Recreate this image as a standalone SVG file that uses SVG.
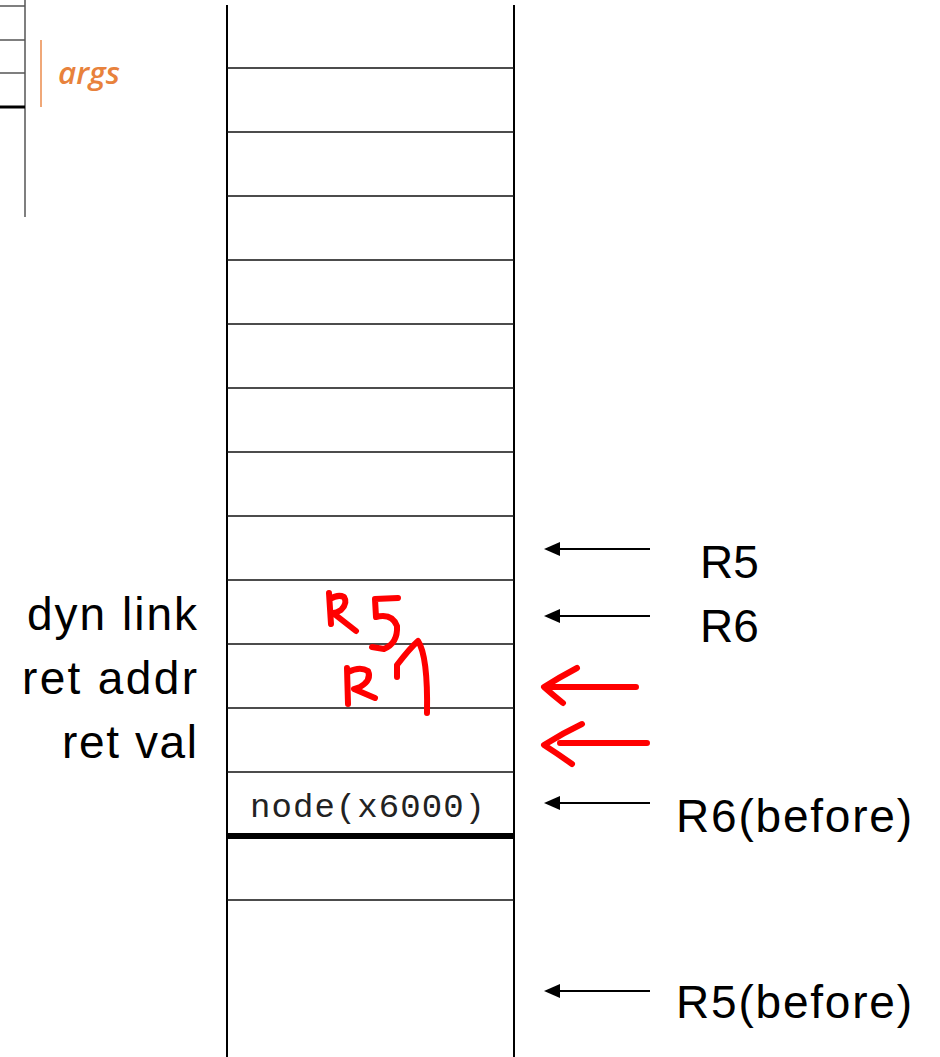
<svg xmlns="http://www.w3.org/2000/svg" width="940" height="1057" viewBox="0 0 940 1057">
  <style>
    .frame { stroke: #000; stroke-width: 2; fill: none; }
    .row { stroke: #111; stroke-width: 1.6; }
    .label { font-family: "Liberation Sans", Arial, sans-serif; font-size: 46px; fill: #000; }
    .mono { font-family: "Liberation Mono", "Courier New", monospace; font-size: 34px; fill: #222; }
    .ptr { stroke: #000; stroke-width: 2; fill: none; }
    .ink { stroke: #ff0000; stroke-width: 6; fill: none; stroke-linecap: round; stroke-linejoin: round; }
    .side { stroke: #555; stroke-width: 1.5; }
  </style>
  <defs>
    <marker id="head" viewBox="0 0 16 14" refX="1" refY="7" markerWidth="16" markerHeight="14" markerUnits="userSpaceOnUse" orient="auto">
      <path d="M16,7 L0,0 L0,14 Z" fill="#000"/>
    </marker>
  </defs>

  <rect width="940" height="1057" fill="#fff"/>

  <!-- partial frame of the caller's stack, top left -->
  <g id="caller-stack">
    <line class="side" x1="25" y1="0" x2="25" y2="217"/>
    <line class="side" x1="0" y1="6" x2="25" y2="6"/>
    <line class="side" x1="0" y1="40" x2="25" y2="40"/>
    <line class="side" x1="0" y1="73" x2="25" y2="73"/>
    <line x1="0" y1="107" x2="25" y2="107" stroke="#000" stroke-width="3"/>
    <line x1="41" y1="40" x2="41" y2="107" stroke="#f0a878" stroke-width="2"/>
    <text x="58" y="84" font-family="Open Sans, Liberation Sans, sans-serif" font-style="italic" font-weight="600" font-size="31" fill="#e8823c" textLength="62" lengthAdjust="spacingAndGlyphs">args</text>
  </g>

  <!-- main stack column -->
  <g id="stack">
    <line class="frame" x1="227" y1="5" x2="227" y2="1057"/>
    <line class="frame" x1="514" y1="5" x2="514" y2="1057"/>
    <line class="row" x1="227" y1="68" x2="514" y2="68"/>
    <line class="row" x1="227" y1="132" x2="514" y2="132"/>
    <line class="row" x1="227" y1="196" x2="514" y2="196"/>
    <line class="row" x1="227" y1="260" x2="514" y2="260"/>
    <line class="row" x1="227" y1="324" x2="514" y2="324"/>
    <line class="row" x1="227" y1="388" x2="514" y2="388"/>
    <line class="row" x1="227" y1="452" x2="514" y2="452"/>
    <line class="row" x1="227" y1="516" x2="514" y2="516"/>
    <line class="row" x1="227" y1="580" x2="514" y2="580"/>
    <line class="row" x1="227" y1="644" x2="514" y2="644"/>
    <line class="row" x1="227" y1="708" x2="514" y2="708"/>
    <line class="row" x1="227" y1="772" x2="514" y2="772"/>
    <line x1="227" y1="836" x2="514" y2="836" stroke="#000" stroke-width="6"/>
    <line class="row" x1="227" y1="900" x2="514" y2="900"/>
  </g>

  <g id="node-arg">
    <text class="mono" x="250" y="817" textLength="235" lengthAdjust="spacing">node(x6000)</text>
  </g>

  <!-- slot names -->
  <g id="slot-labels">
    <text class="label" x="197" y="630" text-anchor="end" textLength="170" lengthAdjust="spacing">dyn link</text>
    <text class="label" x="197" y="694" text-anchor="end" textLength="175" lengthAdjust="spacing">ret addr</text>
    <text class="label" x="197" y="758" text-anchor="end" textLength="135" lengthAdjust="spacing">ret val</text>
  </g>

  <!-- register names -->
  <g id="register-labels">
    <text class="label" x="700" y="578">R5</text>
    <text class="label" x="700" y="642">R6</text>
    <text class="label" x="676" y="832" textLength="236" lengthAdjust="spacing">R6(before)</text>
    <text class="label" x="676" y="1018" textLength="236" lengthAdjust="spacing">R5(before)</text>
  </g>

  <!-- pointer arrows -->
  <g id="connectors">
    <line class="ptr" x1="650" y1="549" x2="559" y2="549" marker-end="url(#head)"/>
    <line class="ptr" x1="650" y1="616" x2="559" y2="616" marker-end="url(#head)"/>
    <line class="ptr" x1="650" y1="803" x2="559" y2="803" marker-end="url(#head)"/>
    <line class="ptr" x1="650" y1="991" x2="559" y2="991" marker-end="url(#head)"/>
    <path class="ink" d="M636,687 L545,687 M577,668 Q560,677 544,687 Q553,695 563,703"/>
    <path class="ink" d="M647,743 L560,743 M582,724 Q563,733 544,745 Q558,754 572,764"/>
  </g>

  <!-- handwritten annotations -->
  <g id="annotations">
    <path class="ink" d="M329,593 L331,624 M330,599 Q338,594 344,597 Q348,603 341,610 Q336,613 333,613 L356,631"/>
    <path class="ink" d="M398,598 L375,599 L376,617 Q392,613 397,626 Q398,643 384,649 L372,647"/>
    <path class="ink" d="M347,668 L348,704 M348,672 Q360,666 368,671 Q372,680 360,687 L354,689 L375,698"/>
    <path class="ink" d="M397,677 L397,665 Q410,648 418,641 Q428,656 427,713"/>
  </g>
</svg>
